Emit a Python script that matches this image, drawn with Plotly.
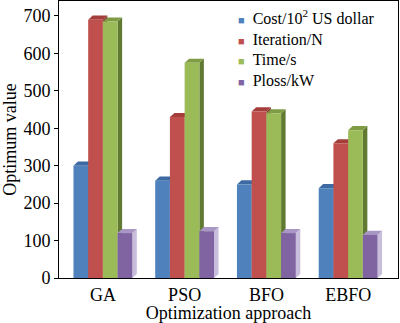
import plotly.graph_objects as go

categories = ["GA", "PSO", "BFO", "EBFO"]
series_names = ["Cost/10<sup>2</sup> US dollar", "Iteration/N", "Time/s", "Ploss/kW"]
cost = [300, 260, 250, 240]
iteration = [690, 430, 445, 360]
time_s = [685, 575, 440, 395]
ploss = [120, 125, 120, 115]
colors = ["#4f81bd", "#c0504d", "#9bbb59", "#8064a2"]
top_colors = ["#3d6aa3", "#a33e3b", "#7f9c45", "#a896c4"]
side_colors = ["#345d8f", "#8f3633", "#617a32", "#c9bddc"]

font = "Liberation Serif"
bargap = 0.28
n = len(series_names)
w = (1 - bargap) / n
dx, dy = 0.055, 11  # pseudo-3D depth, in axis units

fig = go.Figure()
all_vals = [cost, iteration, time_s, ploss]
for name, vals, c in zip(series_names, all_vals, colors):
    fig.add_trace(go.Bar(x=categories, y=vals, name=name, marker_color=c,
                         marker_line_width=0, showlegend=False))

# depth faces (drawn below the traces so the next bar hides hidden sides)
for i, vals in enumerate(all_vals):
    for k, v in enumerate(vals):
        xl = k + (i - (n - 1) / 2) * w - w / 2
        xr = xl + w
        fig.add_shape(type="path", layer="below", line_width=0,
                      fillcolor=side_colors[i],
                      path=f"M{xr},0 L{xr+dx},{dy} L{xr+dx},{v+dy} L{xr},{v} Z")
        fig.add_shape(type="path", layer="below", line_width=0,
                      fillcolor=top_colors[i],
                      path=f"M{xl},{v} L{xl+dx},{v+dy} L{xr+dx},{v+dy} L{xr},{v} Z")

# legend drawn as one multi-line annotation (tight rows like the reference)
legend_lines = [
    f"<span style='color:{c};font-size:11px'>■</span>&nbsp;&nbsp;{name}"
    for name, c in zip(series_names, colors)
]
fig.add_annotation(x=0.522, y=0.985, xref="paper", yref="paper",
                   text="<br>".join(legend_lines), align="left",
                   showarrow=False, xanchor="left", yanchor="top",
                   font=dict(size=16, color="black", family=font))

fig.update_layout(
    width=400, height=323,
    margin=dict(l=59, r=2, t=1, b=45),
    paper_bgcolor="white", plot_bgcolor="white",
    barmode="group", bargap=bargap, bargroupgap=0,
    font=dict(family=font, size=18, color="black"),
    showlegend=False,
    xaxis=dict(title=dict(text="Optimization approach", standoff=2,
                          font=dict(size=18, family=font)),
               range=[-0.537, 3.61],
               showline=True, linecolor="black", linewidth=1, mirror=True,
               ticks="", tickfont=dict(size=18, family=font)),
    yaxis=dict(title=dict(text="Optimum value", standoff=4,
                          font=dict(size=18, family=font)),
               range=[0, 740], dtick=100, showgrid=False, zeroline=False,
               showline=True, linecolor="black", linewidth=1, mirror=True,
               ticks="outside", ticklen=4, tickcolor="black",
               tickfont=dict(size=18, family=font)),
)
fig.write_html("out.html")
